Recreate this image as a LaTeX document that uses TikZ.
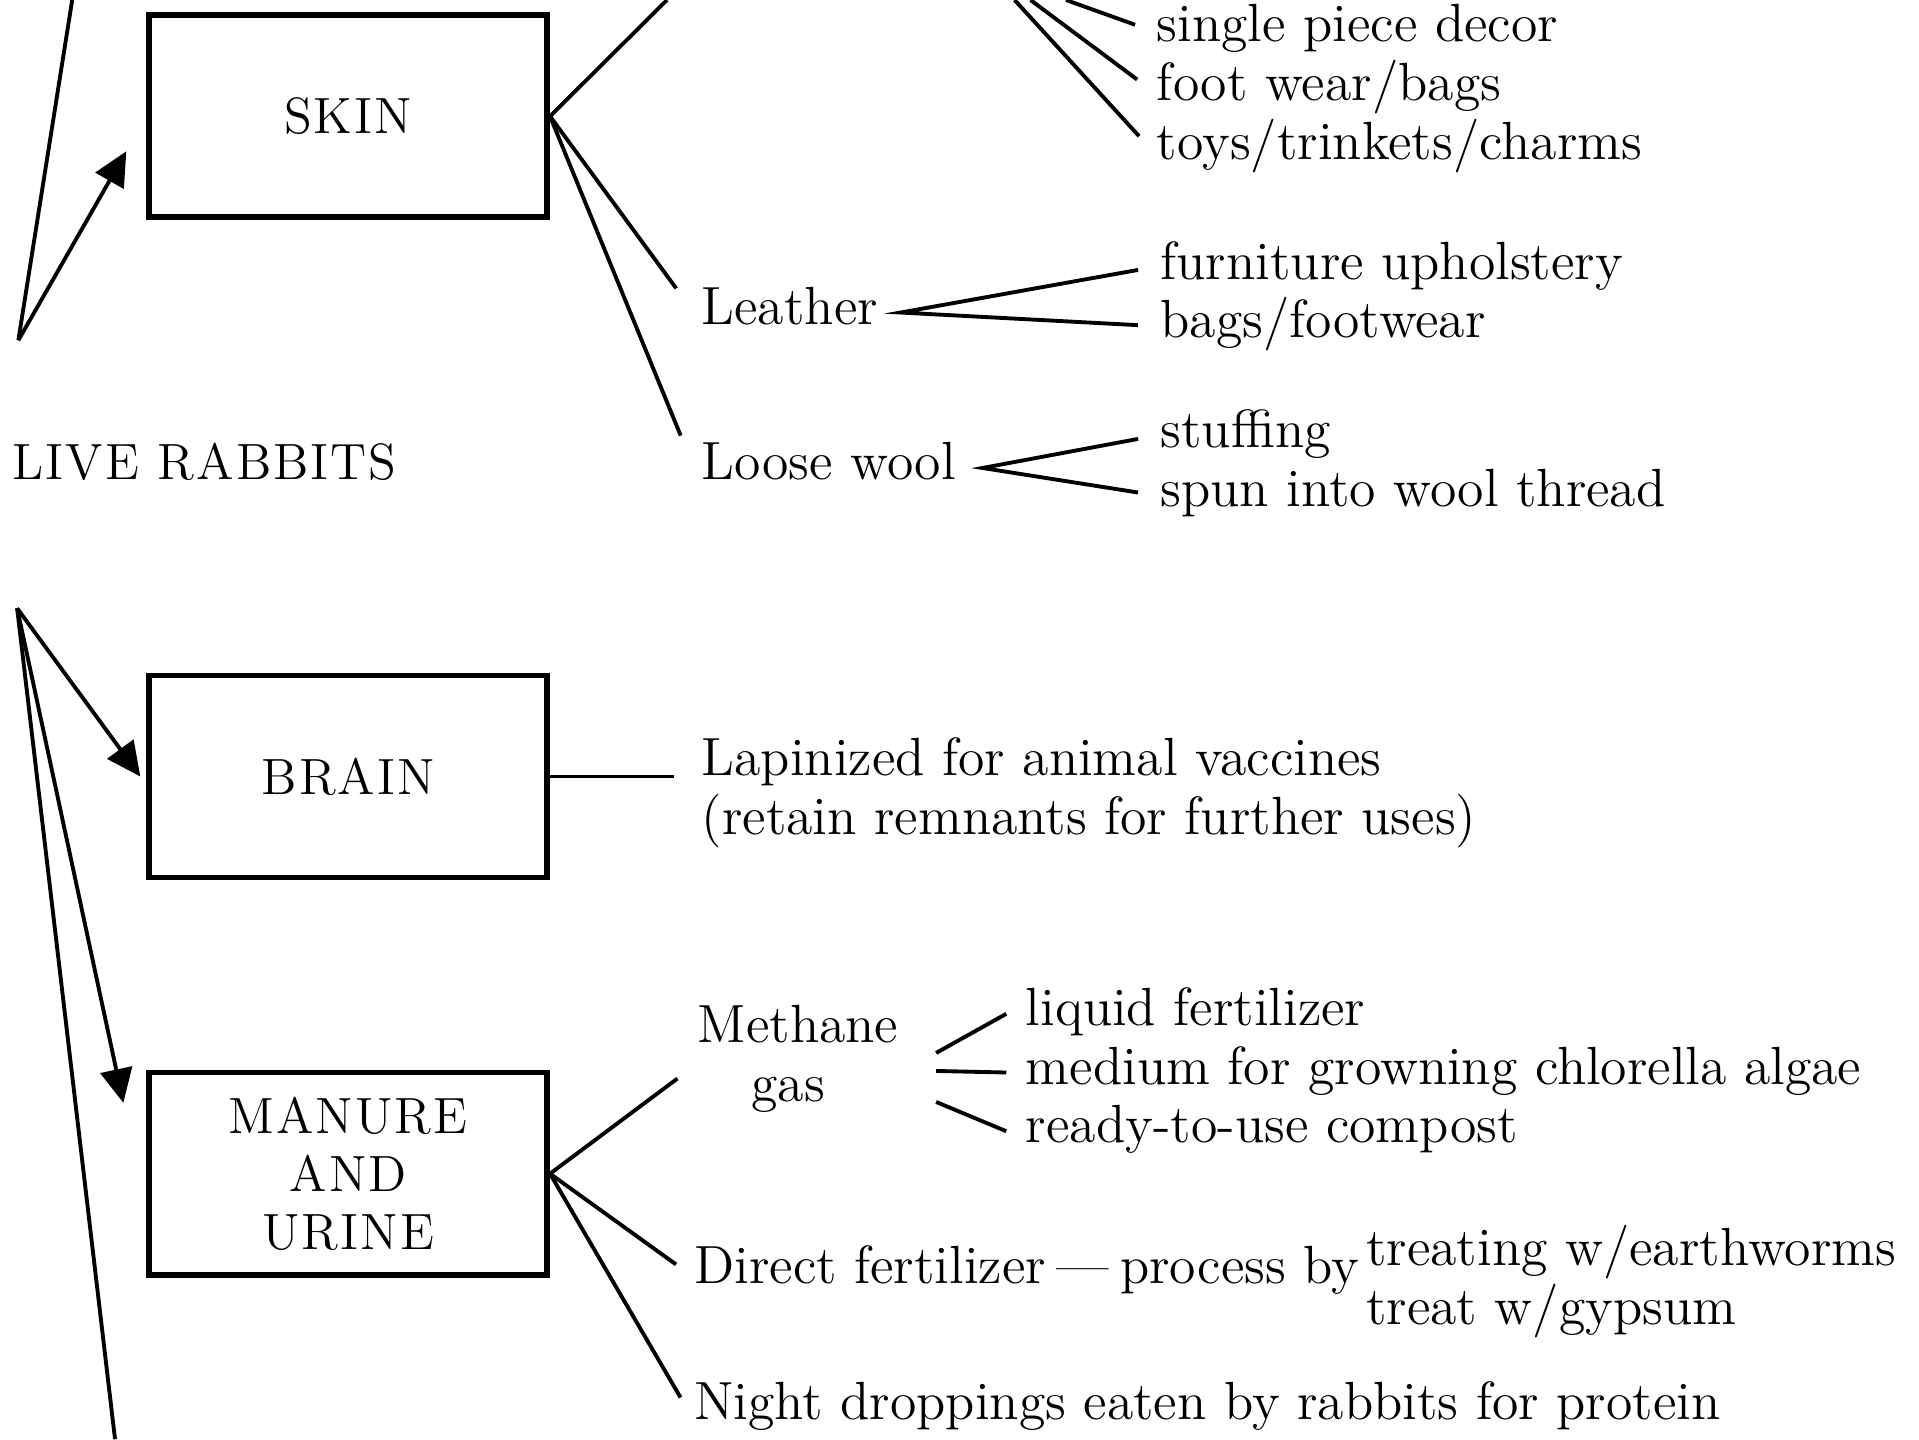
\documentclass[tikz,border=0pt]{standalone}
\usepackage{fontspec}
\setmainfont{lmroman12-regular.otf}
\usepackage{tikz}
\usetikzlibrary{arrows.meta, positioning}
\newcommand{\rabbittext}{\fontsize{15.3pt}{16.5pt}\selectfont}
\newcommand{\rabbitcaps}{\fontsize{14.5pt}{16.5pt}\selectfont\addfontfeature{LetterSpace=4}}

\begin{document}
\begin{tikzpicture}[
    x=0.012239cm, y=-0.012239cm,
    node distance=0pt,
    partbox/.style={rectangle, draw, line width=1.6pt, minimum width=3.98cm, minimum height=2.02cm, align=center, font=\rabbitcaps},
    usetext/.style={anchor=base west, inner xsep=2pt, inner ysep=2pt, text height=9.5pt, text depth=2.8pt, font=\rabbittext},
    link/.style={line width=1.1pt},
    arrow/.style={link, -{Triangle[length=0.34cm, width=0.32cm]}}
]
    \useasboundingbox (0,0) rectangle (1568,1176);

    \node[partbox] (skin) at (284.5,95) {SKIN};
    \node[partbox] (brain) at (284.5,634.5) {BRAIN};
    \node[partbox] (manure) at (284.5,959) {MANURE\\AND\\URINE};
    \node[usetext, font=\rabbitcaps] (live) at (4,392) {LIVE RABBITS};

    \node[usetext] (single) at (939,34) {single piece decor};
    \node[usetext, below=of single.south west, anchor=north west] (footwear) {foot wear/bags};
    \node[usetext, below=of footwear.south west, anchor=north west] (toys) {toys/trinkets/charms};

    \node[usetext] (leather) at (567,265) {Leather};
    \node[usetext] (upholstery) at (942,228) {furniture upholstery};
    \node[usetext, below=of upholstery.south west, anchor=north west] (bagsfoot) {bags/footwear};

    \node[usetext] (loose) at (567,392) {Loose wool};
    \node[usetext] (stuffing) at (942,366) {stuffing};
    \node[usetext, below=of stuffing.south west, anchor=north west] (spun) {spun into wool thread};

    \node[usetext] (lapin) at (567,634) {Lapinized for animal vaccines};
    \node[usetext, below=of lapin.south west, anchor=north west] (retain) {(retain remnants for further uses)};

    \node[usetext] (methane) at (564,852) {Methane};
    \node[usetext, below=of methane, xshift=-1mm] (gas) {gas};
    \node[usetext] (liquid) at (832,838) {liquid fertilizer};
    \node[usetext, below=of liquid.south west, anchor=north west] (medium) {medium for growning chlorella algae};
    \node[usetext, below=of medium.south west, anchor=north west] (ready) {ready-to-use compost};

    \node[usetext] (direct) at (561,1049) {Direct fertilizer\hspace{0.2em}—\hspace{0.2em}process by};
    \node[usetext] (worms) at (1110,1034) {treating w/earthworms};
    \node[usetext, below=of worms.south west, anchor=north west] (gypsum) {treat w/gypsum};

    \node[usetext] (night) at (561,1160) {Night droppings eaten by rabbits for protein};

    \coordinate (livetop) at (59,0);
    \coordinate (livebottom) at (94,1176);
    \coordinate (forkskin) at (15,278);
    \coordinate (forkbody) at (14,497);
    \coordinate (skincut) at (545,0);
    \coordinate (cutsingle) at (871,0);
    \coordinate (cutfoot) at (842,0);
    \coordinate (cuttoys) at (829,0);

    \draw[link] (livetop) -- (forkskin);
    \draw[arrow] (forkskin) -- ([xshift=-2mm, yshift=-3.5mm]skin.west);
    \draw[arrow] (forkbody) -- ([xshift=-0.6mm]brain.west);
    \draw[arrow] (forkbody) -- ([xshift=-2.3mm, yshift=-3.3mm]manure.north west);
    \draw[link] (forkbody) -- (livebottom);

    \draw[link] (skin.east) -- (skincut);
    \draw[link, shorten >=3mm] (skin.east) -- (leather.west);
    \draw[link, shorten >=3.5mm] (skin.east) -- (loose.west);
    \draw[link, shorten >=1.5mm] (cutsingle) -- (single.west);
    \draw[link, shorten >=1.5mm] (cutfoot) -- (footwear.west);
    \draw[link, shorten >=1.5mm] (cuttoys) -- (toys.west);
    \draw[link, shorten <=1.5mm, shorten >=1.5mm] (upholstery.west) -- ([xshift=1.5mm]leather.east) -- (bagsfoot.west);
    \draw[link, shorten <=1.5mm, shorten >=1.5mm] (stuffing.west) -- ([xshift=1.9mm]loose.east) -- (spun.west);

    \draw[link, shorten >=2mm] (brain.east) -- (brain.east -| lapin.west);

    \draw[link, shorten >=1.6mm] (manure.east) -- ([yshift=-3.8mm]methane.west);
    \draw[link, shorten >=1.3mm] (manure.east) -- (direct.west);
    \draw[link, shorten >=1.2mm] (manure.east) -- (night.west);
    \draw[link] ([xshift=3mm, yshift=-2.2mm]methane.east) -- ([xshift=-1.2mm]liquid.west);
    \draw[link] ([xshift=3mm, yshift=-4mm]methane.east) -- ([xshift=-1.2mm]medium.west);
    \draw[link] ([xshift=3mm, yshift=-7.1mm]methane.east) -- ([xshift=-1.2mm]ready.west);
\end{tikzpicture}
\end{document}
